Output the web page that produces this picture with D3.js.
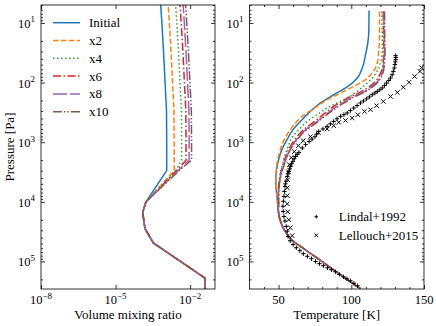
<!DOCTYPE html>
<html><head><meta charset="utf-8">
<script src="https://cdn.jsdelivr.net/npm/d3@7"></script>
<style>
html,body{margin:0;padding:0;background:#fff;}
</style></head><body>
<svg id="c" width="436" height="326"></svg>
<script>
// ---------- data ----------
const seriesNames = ["Initial", "x2", "x4", "x6", "x8", "x10"];
const seriesColors = ["#1f77b4", "#ff7f0e", "#2ca02c", "#d62728", "#9467bd", "#8c564b"];
const seriesDash = [null, "5.5,2.4", "1.5,2.5", "8,2.5,1.5,2.5", "14,3", "9,2,1.5,2,1.5,2"];

// left panel: volume mixing ratio vs pressure [Pa]
const vmrPressure = [4, 10, 30, 100, 300, 1000, 2000, 3000, 1e4, 1.5e4, 2.8e4, 4.9e4, 1.9e5, 4e5];
const vmrInitial = [6.3e-4, 7.3e-4, 8.5e-4, 9.8e-4, 1.12e-3, 1.14e-3, 1.14e-3, 1.14e-3, 1.67e-4, 1.23e-4, 1.52e-4, 3.29e-4, 3.95e-2, 3.95e-2];
const vmrX2 = [1.26e-3, 1.46e-3, 1.70e-3, 1.96e-3, 2.24e-3, 2.28e-3, 2.28e-3, 2.28e-3, 1.67e-4, 1.23e-4, 1.52e-4, 3.29e-4, 3.95e-2, 3.95e-2];
const vmrX4 = [2.52e-3, 2.92e-3, 3.40e-3, 3.92e-3, 4.48e-3, 4.56e-3, 4.56e-3, 2.57e-3, 1.67e-4, 1.23e-4, 1.52e-4, 3.29e-4, 3.95e-2, 3.95e-2];
const vmrX6 = [3.78e-3, 4.38e-3, 5.10e-3, 5.88e-3, 6.72e-3, 6.84e-3, 6.84e-3, 2.82e-3, 1.67e-4, 1.23e-4, 1.52e-4, 3.29e-4, 3.95e-2, 3.95e-2];
const vmrX8 = [5.04e-3, 5.84e-3, 6.80e-3, 7.84e-3, 8.96e-3, 9.12e-3, 9.12e-3, 3.27e-3, 1.67e-4, 1.23e-4, 1.52e-4, 3.29e-4, 3.95e-2, 3.95e-2];
const vmrX10 = [6.3e-3, 7.3e-3, 8.5e-3, 9.8e-3, 1.12e-2, 1.14e-2, 1.14e-2, 3.59e-3, 1.67e-4, 1.23e-4, 1.52e-4, 3.29e-4, 3.95e-2, 3.95e-2];

// right panel: temperature [K] vs pressure [Pa]
const tempInitialP = [6.2, 13, 23.1, 34, 56, 83, 117, 160, 220, 304, 448, 641, 908, 1336, 1968, 2900, 4260, 6270, 9230];
const tempInitialT = [112.2, 112.1, 111.2, 109.8, 107.7, 104.3, 97.4, 87.9, 78.8, 71.9, 65.0, 59.4, 55.8, 52.2, 50.0, 48.6, 48.1, 48.4, 49.1];
const tempX2P = [6.4, 15.7, 28, 47, 69, 89, 108, 131, 160, 194, 251, 324, 393, 617, 908, 1336, 2385, 4260, 7600, 11200];
const tempX2T = [119.4, 119.4, 119.0, 117.9, 114.4, 109.8, 104.1, 97.2, 90.3, 83.4, 76.5, 69.6, 65.0, 58.1, 53.9, 51.2, 48.8, 48.1, 48.8, 49.4];
const tempX4P = [6.4, 15.7, 28, 47, 61, 84, 108, 141, 181, 220, 267, 346, 448, 578, 778, 1336, 2545, 4260, 7600, 11200];
const tempX4T = [121.0, 121.3, 121.3, 120.1, 118.3, 114.4, 109.8, 104.1, 97.2, 90.3, 83.4, 76.5, 69.6, 65.0, 60.1, 55.8, 52.3, 50.5, 50.1, 50.1];
const tempUpperP = [6.4, 15.7, 28, 57, 79, 102, 123, 149, 171, 207, 251, 304, 393, 508, 617, 840, 1175, 2234, 3945, 7600, 11200];
const tempX6T = [122.0, 122.2, 122.4, 121.3, 119.0, 115.5, 111.0, 105.2, 99.4, 93.7, 87.9, 83.4, 77.6, 71.9, 67.2, 62.2, 58.1, 53.4, 50.8, 49.8, 50.0];
const tempX8T = [122.4, 122.6, 122.8, 122.0, 120.2, 117.0, 112.8, 107.2, 101.5, 95.8, 90.0, 85.3, 79.4, 73.5, 68.6, 63.3, 59.0, 54.0, 51.1, 49.9, 50.0];
const tempX10T = [122.9, 123.0, 123.2, 122.5, 120.8, 117.8, 113.7, 108.2, 102.6, 96.9, 91.1, 86.3, 80.3, 74.3, 69.3, 63.9, 59.4, 54.3, 51.3, 50.0, 50.0];
const tempDeepP = [1.36e4, 2.0e4, 2.72e4, 4.33e4, 6.37e4, 9.35e4, 1.38e5, 2.03e5, 2.87e5];
const tempDeepT = [49.8, 51.0, 53.2, 59.0, 68.4, 78.1, 87.7, 97.4, 106.3];

const lindalP = [35.4, 38, 41.3, 45, 50, 57, 65, 74, 84, 92, 102, 112, 123, 132, 141, 150, 160, 174, 188, 204, 220, 243, 267, 295, 324, 345, 369, 405, 448, 493, 543, 600, 659, 730, 810, 890, 970, 1100, 1250, 1480, 1600, 1730, 1900, 2100, 2300, 2545, 2800, 3100, 3400, 3750, 4500, 5000, 5520, 6700, 8110, 9800, 1.19e4, 1.45e4, 1.76e4, 2.1e4, 2.59e4, 3.1e4, 3.81e4, 4.5e4, 5.2e4, 5.89e4, 6.6e4, 7.43e4, 8.2e4, 9.0e4, 1.0e5, 1.09e5, 1.18e5, 1.28e5, 1.38e5, 1.49e5, 1.65e5, 1.81e5, 1.96e5, 2.11e5, 2.33e5, 2.56e5];
const lindalT = [130.5, 130.6, 130.5, 130.3, 130.0, 129.6, 128.9, 128.1, 127.0, 125.8, 124.3, 122.9, 121.3, 119.6, 117.9, 116.2, 114.4, 112.4, 110.5, 108.4, 106.3, 104.0, 101.7, 99.4, 97.2, 94.9, 92.6, 90.2, 87.9, 85.6, 83.4, 80.5, 77.6, 76.2, 75.0, 73.0, 71.0, 68.6, 66.3, 64.0, 62.8, 61.7, 60.7, 59.8, 59.0, 58.3, 57.6, 57.0, 56.5, 56.0, 55.1, 54.7, 54.4, 54.0, 53.7, 53.3, 53.0, 53.2, 53.7, 54.4, 55.3, 56.0, 56.5, 58.0, 60.0, 62.2, 64.6, 67.0, 69.8, 72.6, 75.4, 78.1, 80.8, 83.6, 86.3, 89.1, 91.8, 94.6, 97.0, 99.4, 101.8, 104.3];
const lellouchP = [56, 65, 79, 99, 120, 146, 171, 207, 244, 285, 304, 346, 393, 431, 465, 529, 601, 693, 809, 945, 1146, 1443, 1820, 2385, 3130, 4260, 5800, 7900, 1.08e4, 1.47e4, 2.0e4, 2.72e4, 3.7e4];
const lellouchT = [148.4, 147.2, 143.6, 139.7, 135.8, 131.7, 127.0, 122.0, 117.4, 113.2, 109.1, 104.5, 100.6, 96.0, 91.4, 87.9, 83.4, 77.4, 71.9, 67.0, 63.6, 60.8, 58.8, 57.4, 56.7, 56.3, 56.0, 56.0, 56.0, 56.3, 57.0, 58.1, 59.4];
const obsNames = ["Lindal+1992", "Lellouch+2015"];

const pressureTicks = [1e1, 1e2, 1e3, 1e4, 1e5];
const vmrTicks = [1e-8, 1e-5, 1e-2];
const tempTicks = [50, 100, 150];

// ---------- layout ----------
const FONT = "'Liberation Serif', 'Times New Roman', 'DejaVu Serif', serif";
const svg = d3.select("#c");
const yTop = 5, yBot = 289;
const L = {x0: 41, x1: 215};
const R = {x0: 249.5, x1: 424};

const yP = d3.scaleLog().domain([5, 2.9e5]).range([yTop, yBot]);
const xV = d3.scaleLog().domain([1e-8, 1e-1]).range([L.x0, L.x1]);
const xT = d3.scaleLinear().domain([30, 150]).range([R.x0, R.x1]);

const defs = svg.append("defs");
defs.append("clipPath").attr("id", "clipL").append("rect")
  .attr("x", L.x0).attr("y", yTop).attr("width", L.x1 - L.x0).attr("height", yBot - yTop);
defs.append("clipPath").attr("id", "clipR").append("rect")
  .attr("x", R.x0).attr("y", yTop).attr("width", R.x1 - R.x0).attr("height", yBot - yTop);

function txt(g, x, y, size, anchor) {
  return g.append("text").attr("x", x).attr("y", y).attr("font-family", FONT)
    .attr("font-size", size).attr("text-anchor", anchor).attr("fill", "#000");
}
const supMinus = s => s.replace("-", "\u2212");
function powLabel(g, x, y, exp, anchor) {
  const t = txt(g, x, y, 12.5, anchor);
  t.append("tspan").text("10");
  t.append("tspan").attr("dy", -5.5).attr("font-size", 9).text(supMinus(String(exp)));
  return t;
}

const minorP = yP.ticks().filter(v => Math.abs(Math.log10(v) - Math.round(Math.log10(v))) > 1e-6);

function frame(P, xScale, xMajor, xMinor) {
  const g = svg.append("g");
  g.append("g").attr("transform", `translate(${P.x0},0)`).call(d3.axisLeft(yP).tickValues(pressureTicks).tickSize(-4).tickFormat(""));
  g.append("g").attr("transform", `translate(${P.x0},0)`).call(d3.axisLeft(yP).tickValues(minorP).tickSize(-2).tickFormat(""));
  g.append("g").attr("transform", `translate(${P.x1},0)`).call(d3.axisRight(yP).tickValues(pressureTicks).tickSize(-4).tickFormat(""));
  g.append("g").attr("transform", `translate(${P.x1},0)`).call(d3.axisRight(yP).tickValues(minorP).tickSize(-2).tickFormat(""));
  g.append("g").attr("transform", `translate(0,${yBot})`).call(d3.axisBottom(xScale).tickValues(xMajor).tickSize(-4).tickFormat(""));
  g.append("g").attr("transform", `translate(0,${yTop})`).call(d3.axisTop(xScale).tickValues(xMajor).tickSize(-4).tickFormat(""));
  if (xMinor) {
    g.append("g").attr("transform", `translate(0,${yBot})`).call(d3.axisBottom(xScale).tickValues(xMinor).tickSize(-2).tickFormat(""));
    g.append("g").attr("transform", `translate(0,${yTop})`).call(d3.axisTop(xScale).tickValues(xMinor).tickSize(-2).tickFormat(""));
  }
  g.selectAll(".domain").remove();
  g.selectAll(".tick text").remove();
  g.selectAll(".tick line").attr("stroke", "#000").attr("stroke-width", 0.8);
  pressureTicks.forEach(v => powLabel(g, P.x0 - 6, yP(v) + 5, Math.round(Math.log10(v)), "end"));
  return g;
}

function border(P) {
  svg.append("rect").attr("x", P.x0).attr("y", yTop).attr("width", P.x1 - P.x0).attr("height", yBot - yTop)
    .attr("fill", "none").attr("stroke", "#000").attr("stroke-width", 0.8);
}

// ---------- left panel ----------
const gL = frame(L, xV, vmrTicks, null);
vmrTicks.forEach(v => powLabel(gL, xV(v), 304, Math.round(Math.log10(v)), "middle"));

const vmrSeries = [vmrInitial, vmrX2, vmrX4, vmrX6, vmrX8, vmrX10];
const lineL = d3.line().x(d => xV(d[0])).y(d => yP(d[1]));
const plotL = svg.append("g").attr("clip-path", "url(#clipL)");
vmrSeries.forEach((arr, i) => {
  plotL.append("path").datum(arr.map((v, j) => [v, vmrPressure[j]]))
    .attr("d", lineL).attr("fill", "none").attr("stroke", seriesColors[i])
    .attr("stroke-width", 1.5).attr("stroke-dasharray", seriesDash[i]);
});
border(L);

const legL = svg.append("g");
seriesNames.forEach((n, i) => {
  const y = 22.7 + i * 17.8;
  legL.append("line").attr("x1", 53).attr("x2", 80).attr("y1", y).attr("y2", y)
    .attr("stroke", seriesColors[i]).attr("stroke-width", 1.5).attr("stroke-dasharray", seriesDash[i]);
  txt(legL, 89, y + 4.5, 13, "start").text(n);
});

txt(svg, 0, 0, 13, "middle").attr("transform", `translate(14,${(yTop + yBot) / 2}) rotate(-90)`).text("Pressure [Pa]");
txt(svg, (L.x0 + L.x1) / 2, 319, 13, "middle").text("Volume mixing ratio");

// ---------- right panel ----------
const tempMinor = d3.range(40, 150, 10).filter(v => !tempTicks.includes(v));
const gR = frame(R, xT, tempTicks, tempMinor);
tempTicks.forEach(v => txt(gR, xT(v), 304, 12.5, "middle").text(v));

const tempSeries = [
  [tempInitialP, tempInitialT],
  [tempX2P, tempX2T],
  [tempX4P, tempX4T],
  [tempUpperP, tempX6T],
  [tempUpperP, tempX8T],
  [tempUpperP, tempX10T]
];
const lineR = d3.line().curve(d3.curveMonotoneY).x(d => xT(d[0])).y(d => yP(d[1]));
const plotR = svg.append("g").attr("clip-path", "url(#clipR)");
tempSeries.forEach(([P, T], i) => {
  const pts = T.map((t, j) => [t, P[j]]).concat(tempDeepT.map((t, j) => [t, tempDeepP[j]]));
  plotR.append("path").datum(pts).attr("d", lineR).attr("fill", "none")
    .attr("stroke", seriesColors[i]).attr("stroke-width", 1.5).attr("stroke-dasharray", seriesDash[i]);
});
const plusPath = "M-2.2,0H2.2M0,-2.2V2.2";
const crossPath = "M-2.2,-2.2L2.2,2.2M-2.2,2.2L2.2,-2.2";
plotR.selectAll(".lin").data(lindalT.map((t, j) => [t, lindalP[j]])).enter().append("path")
  .attr("transform", d => `translate(${xT(d[0])},${yP(d[1])})`).attr("d", plusPath)
  .attr("stroke", "#000").attr("stroke-width", 1).attr("fill", "none");
plotR.selectAll(".lel").data(lellouchT.map((t, j) => [t, lellouchP[j]])).enter().append("path")
  .attr("transform", d => `translate(${xT(d[0])},${yP(d[1])})`).attr("d", crossPath)
  .attr("stroke", "#000").attr("stroke-width", 1).attr("fill", "none");
border(R);

const legR = svg.append("g");
[plusPath, crossPath].forEach((m, i) => {
  const y = 216.7 + i * 18.6;
  legR.append("path").attr("transform", `translate(316.3,${y}) scale(0.8)`).attr("d", m)
    .attr("stroke", "#000").attr("stroke-width", 1.2).attr("fill", "none");
  txt(legR, 338.7, y + 4.5, 13, "start").text(obsNames[i]);
});

txt(svg, (R.x0 + R.x1) / 2, 319, 13, "middle").text("Temperature [K]");
</script>
</body></html>
